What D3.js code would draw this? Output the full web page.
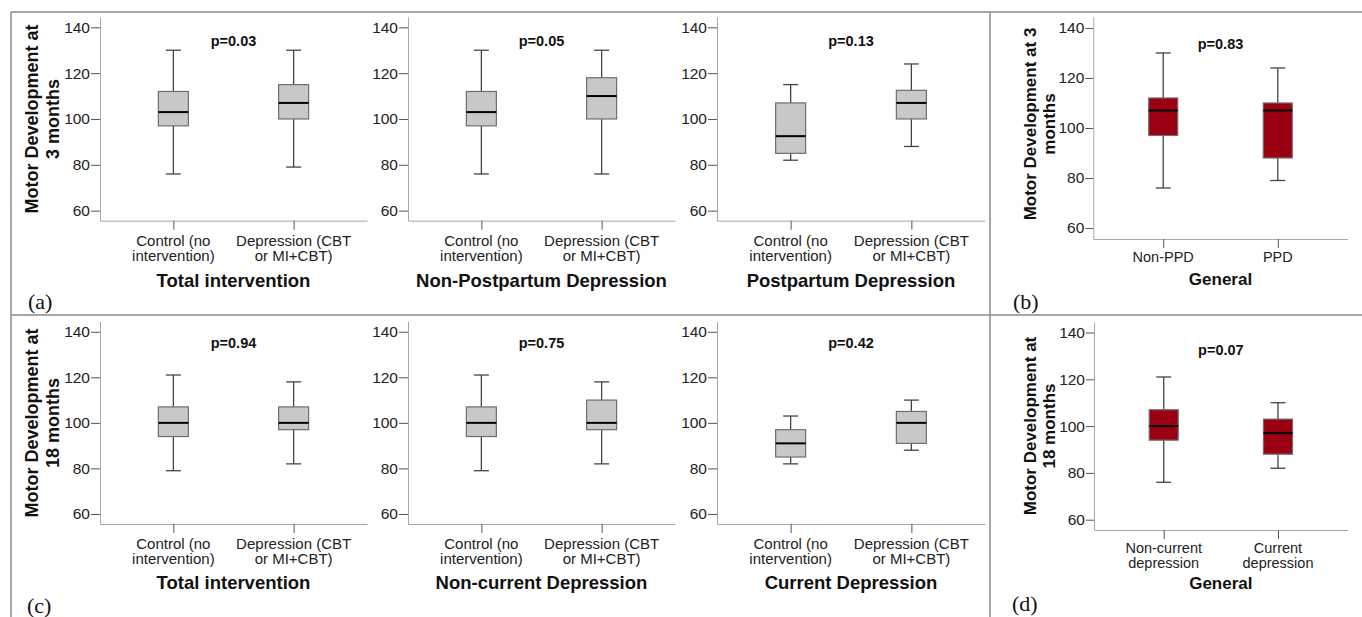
<!DOCTYPE html>
<html lang="en">
<head>
  <meta charset="UTF-8">
  <title>Motor Development box plots</title>
  <script src="https://d3js.org/d3.v7.min.js"></script>
  <style>
    body { margin: 0; background: #fff; }
    svg { display: block; font-family: "Liberation Sans", Arial, sans-serif; }
  </style>
</head>
<body>
  <div id="chart"></div>
  <script>
  // values: [lower whisker, Q1, median, Q3, upper whisker]
  const yTicks = [60, 80, 100, 120, 140]
  const yDomain = [55.6, 144.5]

  const interventionGroups = [['Control (no', 'intervention)'], ['Depression (CBT', 'or MI+CBT)']]
  const ppdGroups = [['Non-PPD'], ['PPD']]
  const currentGroups = [['Non-current', 'depression'], ['Current', 'depression']]

  const m3Total = [[76, 97, 103, 112, 130], [79, 100, 107, 115, 130]]
  const m3NonPostpartum = [[76, 97, 103, 112, 130], [76, 100, 110, 118, 130]]
  const m3Postpartum = [[82, 85, 92.5, 107, 115], [88, 100, 107, 112.5, 124]]
  const m3General = [[76, 97, 107, 112, 130], [79, 88, 107, 110, 124]]
  const m18Total = [[79, 94, 100, 107, 121], [82, 97, 100, 107, 118]]
  const m18NonCurrent = [[79, 94, 100, 107, 121], [82, 97, 100, 110, 118]]
  const m18Current = [[82, 85, 91, 97, 103], [88, 91, 100, 105, 110]]
  const m18General = [[76, 94, 100, 107, 121], [82, 88, 97, 103, 110]]

  const pValues = ['p=0.03', 'p=0.05', 'p=0.13', 'p=0.83', 'p=0.94', 'p=0.75', 'p=0.42', 'p=0.07']
  const groupTitles = ['Total intervention', 'Non-Postpartum Depression', 'Postpartum Depression', 'General',
                       'Total intervention', 'Non-current Depression', 'Current Depression', 'General']
  const yTitles = [['Motor Development at', '3 months'], ['Motor Development at 3', 'months'],
                   ['Motor Development at', '18 months'], ['Motor Development at', '18 months']]
  const panelLetters = ['(a)', '(b)', '(c)', '(d)']

  const W = 1362, H = 617
  const grey = '#c8c8c8', red = '#9b0012'

  const svg = d3.select('#chart').append('svg')
    .attr('width', W).attr('height', H)

  // frame
  const frame = [[11, 12, W, 12], [11, 12, 11, H], [11, 315, W, 315], [990, 12, 990, H]]
  svg.selectAll('line.frame').data(frame).enter().append('line')
    .attr('class', 'frame')
    .attr('x1', d => d[0]).attr('y1', d => d[1]).attr('x2', d => d[2]).attr('y2', d => d[3])
    .attr('stroke', '#8a8a8a').attr('stroke-width', 1.5)

  const plots = [
    { data: m3Total, groups: interventionGroups, x0: 100, x1: 367, top: 17, bot: 220.7, pY: 45.5, fill: grey },
    { data: m3NonPostpartum, groups: interventionGroups, x0: 408, x1: 675, top: 17, bot: 220.7, pY: 45.5, fill: grey },
    { data: m3Postpartum, groups: interventionGroups, x0: 717, x1: 985, top: 17, bot: 220.7, pY: 45.5, fill: grey },
    { data: m3General, groups: ppdGroups, x0: 1093.3, x1: 1347.7, top: 16.7, bot: 239, pY: 48.5, fill: red, small: true },
    { data: m18Total, groups: interventionGroups, x0: 100, x1: 367, top: 321.5, bot: 524, pY: 347.5, fill: grey },
    { data: m18NonCurrent, groups: interventionGroups, x0: 408, x1: 675, top: 321.5, bot: 524, pY: 347.5, fill: grey },
    { data: m18Current, groups: interventionGroups, x0: 717, x1: 985, top: 321.5, bot: 524, pY: 347.5, fill: grey },
    { data: m18General, groups: currentGroups, x0: 1094, x1: 1347.7, top: 322, bot: 530, pY: 355, fill: red, small: true }
  ]

  plots.forEach((p, k) => {
    const g = svg.append('g')
    const x = d3.scalePoint().domain(d3.range(p.data.length)).range([p.x0, p.x1]).padding(0.61)
    const y = d3.scaleLinear().domain(yDomain).range([p.bot, p.top])
    const boxW = p.small ? 29 : 30
    const capW = 15

    const yAxis = g.append('g')
      .attr('transform', `translate(${p.x0},0)`)
      .call(d3.axisLeft(y).tickValues(yTicks).tickSize(p.small ? 8 : 9).tickPadding(1).tickSizeOuter(0))
    yAxis.select('.domain').attr('stroke', '#a8a8a8')
    yAxis.selectAll('.tick line').attr('stroke', '#555')
    yAxis.selectAll('.tick text').attr('font-size', 15.5).attr('fill', '#222')
      .attr('font-family', '"Liberation Sans", Arial, sans-serif')

    const xAxis = g.append('g')
      .attr('transform', `translate(0,${p.bot})`)
      .call(d3.axisBottom(x).tickSize(9).tickSizeOuter(0).tickFormat(''))
    xAxis.select('.domain').attr('stroke', '#a8a8a8')
    xAxis.selectAll('.tick line').attr('stroke', '#555')

    // category labels
    const catSize = p.small ? 14.5 : 15
    const catOffset = p.small ? 23 : 25
    p.groups.forEach((lines, i) => {
      const t = g.append('text')
        .attr('x', x(i)).attr('y', p.bot + catOffset)
        .attr('text-anchor', 'middle').attr('font-size', catSize).attr('fill', '#222')
      lines.forEach((l, j) => {
        t.append('tspan').attr('x', x(i)).attr('dy', j === 0 ? 0 : 15.2).text(l)
      })
    })

    const mid = (x(0) + x(1)) / 2
    // group title
    let titleOffset = p.small ? (p.groups[0].length > 1 ? 59 : 46) : 66
    if (k >= 4 && !p.small) titleOffset = 65
    g.append('text')
      .attr('x', mid).attr('y', p.bot + titleOffset)
      .attr('text-anchor', 'middle').attr('font-weight', 'bold')
      .attr('font-size', p.small ? 17 : 18.5).attr('fill', '#111')
      .text(groupTitles[k])

    // p value
    g.append('text')
      .attr('x', mid).attr('y', p.pY)
      .attr('text-anchor', 'middle').attr('font-weight', 'bold')
      .attr('font-size', 14.5).attr('fill', '#111')
      .text(pValues[k])

    // boxes
    const box = g.selectAll('g.box').data(p.data).enter().append('g').attr('class', 'box')
    box.append('line')
      .attr('x1', (d, i) => x(i)).attr('x2', (d, i) => x(i))
      .attr('y1', d => y(d[0])).attr('y2', d => y(d[4]))
      .attr('stroke', '#444').attr('stroke-width', 1.3)
    box.selectAll('line.cap').data((d, i) => [[i, d[0]], [i, d[4]]]).enter().append('line')
      .attr('class', 'cap')
      .attr('x1', d => x(d[0]) - capW / 2).attr('x2', d => x(d[0]) + capW / 2)
      .attr('y1', d => y(d[1])).attr('y2', d => y(d[1]))
      .attr('stroke', '#444').attr('stroke-width', 1.3)
    box.append('rect')
      .attr('x', (d, i) => x(i) - boxW / 2).attr('width', boxW)
      .attr('y', d => y(d[3])).attr('height', d => y(d[1]) - y(d[3]))
      .attr('fill', p.fill).attr('stroke', '#6e6e6e').attr('stroke-width', 1.2)
    box.append('line')
      .attr('x1', (d, i) => x(i) - boxW / 2).attr('x2', (d, i) => x(i) + boxW / 2)
      .attr('y1', d => y(d[2])).attr('y2', d => y(d[2]))
      .attr('stroke', '#000').attr('stroke-width', 2)
  })

  // y axis titles
  const yTitlePos = [
    { cx: 38, cy: 119, size: 18, gap: 21 },
    { cx: 1035.5, cy: 124, size: 17, gap: 19.5 },
    { cx: 38, cy: 423, size: 18, gap: 21 },
    { cx: 1035.5, cy: 426, size: 17, gap: 19.5 }
  ]
  yTitlePos.forEach((pos, k) => {
    const t = svg.append('text')
      .attr('transform', `translate(${pos.cx},${pos.cy}) rotate(-90)`)
      .attr('text-anchor', 'middle').attr('font-weight', 'bold')
      .attr('font-size', pos.size).attr('fill', '#111')
    yTitles[k].forEach((l, j) => {
      t.append('tspan').attr('x', 0).attr('dy', j === 0 ? 0 : pos.gap).text(l)
    })
  })

  // panel letters
  const letterPos = [[28, 309], [1013, 309], [27, 613], [1012, 611]]
  svg.selectAll('text.letter').data(panelLetters).enter().append('text')
    .attr('class', 'letter')
    .attr('x', (d, i) => letterPos[i][0]).attr('y', (d, i) => letterPos[i][1])
    .attr('font-family', '"Liberation Serif", "Times New Roman", serif')
    .attr('font-size', 22).attr('fill', '#111')
    .text(d => d)
  </script>
</body>
</html>
